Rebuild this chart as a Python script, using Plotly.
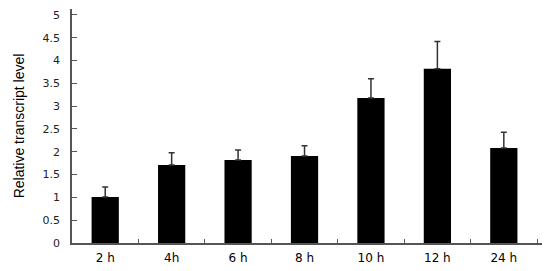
import plotly.graph_objects as go

times = ["2 h", "4h", "6 h", "8 h", "10 h", "12 h", "24 h"]
levels = [1.01, 1.71, 1.82, 1.91, 3.18, 3.82, 2.08]
errors = [0.22, 0.27, 0.22, 0.22, 0.42, 0.60, 0.35]

fig = go.Figure(go.Bar(
    x=times, y=levels,
    marker=dict(color="black", line=dict(width=0)),
    error_y=dict(type="data", array=errors, arrayminus=[0] * len(errors),
                 symmetric=False, color="#333333", thickness=1.5, width=3),
))

# page body has an 8px margin, so the figure is sized to fit inside it
fig.update_layout(
    width=542, height=263,
    margin=dict(l=64, r=3, t=1, b=28, pad=0, autoexpand=False),
    plot_bgcolor="white", paper_bgcolor="white",
    bargap=0.59, showlegend=False,
    font=dict(family="DejaVu Sans", size=11, color="#222222"),
)
fig.update_xaxes(
    range=[-0.5, 6.65], showline=True, linecolor="#555555", linewidth=1.5,
    ticks="inside", tickson="boundaries", ticklen=4, tickcolor="#555555",
    showgrid=False, automargin=False,
    tickfont=dict(size=12, family="DejaVu Sans", color="#000000"),
    ticklabelstandoff=3,
)
fig.update_yaxes(
    range=[0, 5.13], showline=True, linecolor="#555555", linewidth=1.5,
    ticks="inside", ticklen=5, tickcolor="#555555", dtick=0.5,
    showgrid=False, zeroline=False, ticklabelstandoff=8, automargin=False,
    title=dict(text="Relative transcript level", standoff=15,
               font=dict(family="Liberation Sans", size=14, color="black")),
)

fig.write_html("out.html")
